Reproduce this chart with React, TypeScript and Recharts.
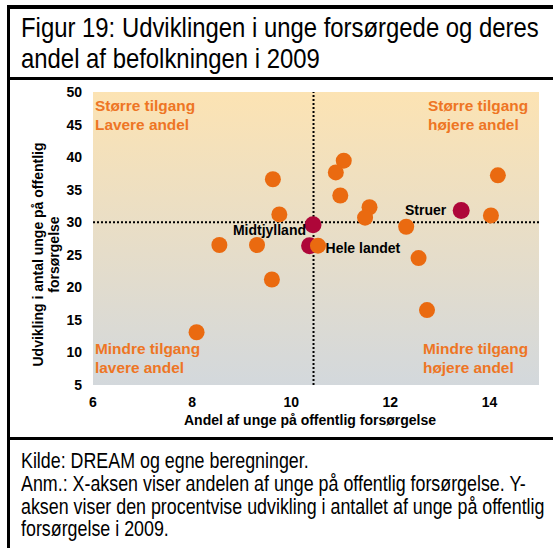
import React from "react";
import { ScatterChart, Scatter, XAxis, YAxis, ReferenceLine, ReferenceArea, Label } from "recharts";

// akser
const xTicks = [6, 8, 10, 12, 14];
const yTicks = [5, 10, 15, 20, 25, 30, 35, 40, 45, 50];
const avgShare = 10.45;
const avgGrowth = 30;

// kommuner (orange)
const kommuneShare = [8.09, 8.55, 9.31, 9.63, 9.76, 9.61, 11.06, 10.9, 10.99, 11.58, 11.49, 12.32, 14.17, 14.03, 10.54, 12.57, 12.74];
const kommuneGrowth = [13.1, 26.5, 26.5, 36.6, 31.2, 21.2, 39.45, 37.65, 34.1, 32.3, 30.7, 29.3, 37.2, 31.05, 26.4, 24.5, 16.5];

// fremhævede
const highlightNames = ["Midtjylland", "Hele landet", "Struer"];
const highlightShare = [10.44, 10.37, 13.43];
const highlightGrowth = [29.6, 26.4, 31.8];

const quadTopLeft = ["Større tilgang", "Lavere andel"];
const quadTopRight = ["Større tilgang", "højere andel"];
const quadBottomLeft = ["Mindre tilgang", "lavere andel"];
const quadBottomRight = ["Mindre tilgang", "højere andel"];

const kommuner = kommuneShare.map((x, i) => ({ x, y: kommuneGrowth[i] }));
const highlights = highlightNames.map((name, i) => ({ name, x: highlightShare[i], y: highlightGrowth[i] }));

const ORANGE = "#EA6A10";
const CRIMSON = "#AE0639";
const TEXT_ORANGE = "#EE7524";
const FONT = "'Liberation Sans', Arial, sans-serif";

const labelPos: Record<string, { dx: number; dy: number; anchor: "start" | "end" }> = {
  Midtjylland: { dx: -7, dy: 10, anchor: "end" },
  "Hele landet": { dx: 16, dy: 7, anchor: "start" },
  Struer: { dx: -15, dy: 4, anchor: "end" },
};

const quadLabel = (lines: string[], side: "left" | "right", vert: "top" | "bottom", inset: number) => (props: any) => {
  const vb = props.viewBox;
  const x = side === "left" ? vb.x + inset : vb.x + vb.width - inset;
  const y0 = vert === "top" ? vb.y + 19 : vb.y + vb.height - 31;
  return (
    <text x={x} y={y0} fill={TEXT_ORANGE} fontSize={15.4} fontWeight="bold" fontFamily={FONT}>
      {lines.map((l, i) => (
        <tspan key={i} x={x} dy={i === 0 ? 0 : 19}>{l}</tspan>
      ))}
    </text>
  );
};

const YTitle = (props: any) => {
  const vb = props.viewBox;
  const cy = vb.y + vb.height / 2 + 16;
  return (
    <g fontFamily={FONT} fontSize={14} fontWeight="bold" fill="#000">
      <text x={43} y={cy} textAnchor="middle" transform={`rotate(-90 43 ${cy})`}>Udvikling i antal unge på offentlig</text>
      <text x={59} y={cy} textAnchor="middle" transform={`rotate(-90 59 ${cy})`}>forsørgelse</text>
    </g>
  );
};

const Dot = (fill: string) => (p: any) => <circle cx={p.cx} cy={p.cy} r={8} fill={fill} />;

const HighlightDot = (p: any) => {
  const pos = labelPos[p.payload.name];
  return (
    <g>
      <circle cx={p.cx} cy={p.cy} r={8.5} fill={CRIMSON} />
      <text x={p.cx + pos.dx} y={p.cy + pos.dy} textAnchor={pos.anchor} fontSize={14} fontWeight="bold" fontFamily={FONT} fill="#000">
        {p.payload.name}
      </text>
    </g>
  );
};

const narrowText: React.CSSProperties = {
  position: "absolute",
  fontFamily: FONT,
  whiteSpace: "nowrap",
  color: "#000",
  transformOrigin: "0 0",
};

export default function App() {
  return (
    <div style={{ position: "absolute", left: 0, top: 0, width: 553, height: 548, overflow: "hidden", background: "#fff" }}>
      <div style={{ position: "absolute", left: 7, top: 5, width: 600, height: 600, borderLeft: "3px solid #000", borderTop: "4px solid #000" }} />
      <div style={{ position: "absolute", left: 7, top: 77, width: 600, height: 3, background: "#000" }} />
      <div style={{ position: "absolute", left: 7, top: 437, width: 600, height: 3, background: "#000" }} />
      <div style={{ ...narrowText, left: 20.5, top: 11.8, fontSize: 28.5, lineHeight: "31.5px", transform: "scaleX(0.838)" }}>
        Figur 19: Udviklingen i unge forsørgede og deres<br />andel af befolkningen i 2009
      </div>
      <div style={{ ...narrowText, left: 21, top: 450, fontSize: 21.5, lineHeight: "22.8px", transform: "scaleX(0.83)" }}>
        Kilde: DREAM og egne beregninger.<br />
        Anm.: X-aksen viser andelen af unge på offentlig forsørgelse. Y-<br />
        aksen viser den procentvise udvikling i antallet af unge på offentlig<br />
        forsørgelse i 2009.
      </div>
      <div style={{ position: "absolute", left: 0, top: 80 }}>
        <ScatterChart width={553} height={357} margin={{ top: 12, right: 14, bottom: 0, left: 0 }}>
          <defs>
            <linearGradient id="plotBg" x1="0" y1="0" x2="0" y2="1">
              <stop offset="0%" stopColor="#FCE3B3" />
              <stop offset="100%" stopColor="#D3D8DC" />
            </linearGradient>
          </defs>
          <XAxis
            type="number"
            dataKey="x"
            domain={[6, 15]}
            ticks={xTicks}
            interval={0}
            axisLine={false}
            tickLine={false}
            tickSize={0}
            tickMargin={12}
            height={52}
            tick={{ fill: "#000", fontSize: 14, fontWeight: "bold", fontFamily: FONT }}
          >
            <Label value="Andel af unge på offentlig forsørgelse" position="insideBottom" offset={12} fill="#000" fontSize={14} fontWeight="bold" fontFamily={FONT} dx={-6} />
          </XAxis>
          <YAxis
            type="number"
            dataKey="y"
            domain={[5, 50]}
            ticks={yTicks}
            interval={0}
            axisLine={false}
            tickLine={false}
            tickSize={0}
            tickMargin={11}
            width={93}
            tick={{ fill: "#000", fontSize: 14, fontWeight: "bold", fontFamily: FONT }}
          >
            <Label content={YTitle} />
          </YAxis>
          <ReferenceArea x1={6} x2={15} y1={5} y2={50} fill="url(#plotBg)" fillOpacity={1} stroke="none" />
          <ReferenceArea x1={6} x2={avgShare} y1={avgGrowth} y2={50} fillOpacity={0} stroke="none" label={quadLabel(quadTopLeft, "left", "top", 2)} />
          <ReferenceArea x1={avgShare} x2={15} y1={avgGrowth} y2={50} fillOpacity={0} stroke="none" label={quadLabel(quadTopRight, "right", "top", 111)} />
          <ReferenceArea x1={6} x2={avgShare} y1={5} y2={avgGrowth} fillOpacity={0} stroke="none" label={quadLabel(quadBottomLeft, "left", "bottom", 2)} />
          <ReferenceArea x1={avgShare} x2={15} y1={5} y2={avgGrowth} fillOpacity={0} stroke="none" label={quadLabel(quadBottomRight, "right", "bottom", 116)} />
          <ReferenceLine x={avgShare} stroke="#000" strokeWidth={2} strokeDasharray="2 2" />
          <ReferenceLine y={avgGrowth} stroke="#000" strokeWidth={2} strokeDasharray="2 2" />
          <Scatter data={highlights} shape={HighlightDot} isAnimationActive={false} />
          <Scatter data={kommuner} shape={Dot(ORANGE)} isAnimationActive={false} />
        </ScatterChart>
      </div>
    </div>
  );
}
